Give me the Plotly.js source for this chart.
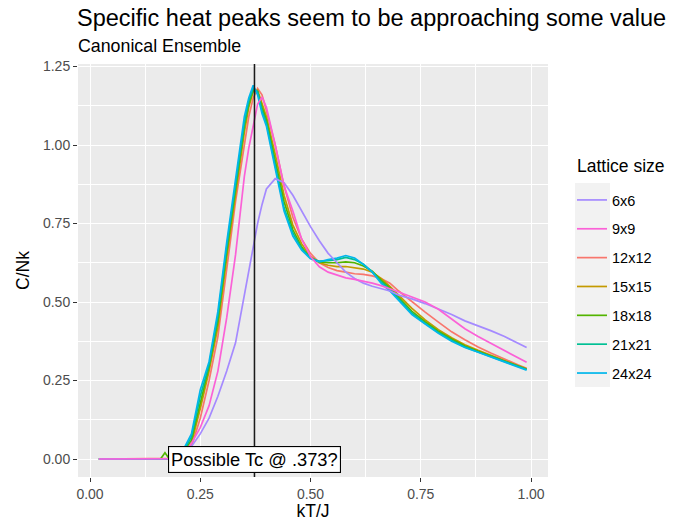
<!DOCTYPE html>
<html>
<head>
<meta charset="utf-8">
<script src="https://cdn.plot.ly/plotly-3.0.1.min.js"></script>
<style>html,body{margin:0;padding:0;background:#fff;}#chart{width:683px;height:521px;}</style>
</head>
<body>
<div id="chart"></div>
<script>
// ---- data ----
const kT = [0.02, 0.06, 0.10, 0.14, 0.16, 0.17, 0.18, 0.19, 0.21, 0.23, 0.25, 0.27, 0.29, 0.31, 0.33, 0.35, 0.36, 0.37, 0.38, 0.39, 0.40, 0.42, 0.44, 0.46, 0.48, 0.50, 0.52, 0.54, 0.56, 0.58, 0.60, 0.62, 0.64, 0.66, 0.68, 0.70, 0.73, 0.76, 0.79, 0.82, 0.85, 0.88, 0.91, 0.94, 0.97, 0.99];

const c6  = [0, 0, 0, 0, 0, 0, 0, 0.001, 0.005, 0.04, 0.08, 0.13, 0.20, 0.28, 0.37, 0.52, 0.59, 0.675, 0.75, 0.81, 0.86, 0.893, 0.88, 0.84, 0.79, 0.74, 0.695, 0.655, 0.625, 0.595, 0.575, 0.56, 0.55, 0.543, 0.535, 0.522, 0.51, 0.495, 0.478, 0.46, 0.44, 0.425, 0.408, 0.39, 0.37, 0.355];
const c9  = [0, 0, 0, 0, 0, 0, 0, 0.001, 0.006, 0.05, 0.10, 0.17, 0.28, 0.45, 0.65, 0.90, 0.99, 1.06, 1.13, 1.153, 1.12, 1.00, 0.87, 0.79, 0.70, 0.645, 0.612, 0.595, 0.585, 0.577, 0.572, 0.567, 0.56, 0.552, 0.543, 0.532, 0.516, 0.50, 0.477, 0.445, 0.415, 0.39, 0.368, 0.347, 0.325, 0.308];
const c12 = [0, 0, 0, 0, 0, 0, 0, 0.002, 0.01, 0.04, 0.13, 0.25, 0.39, 0.61, 0.82, 1.00, 1.09, 1.15, 1.18, 1.16, 1.11, 1.00, 0.87, 0.77, 0.70, 0.655, 0.625, 0.61, 0.60, 0.595, 0.59, 0.588, 0.583, 0.575, 0.56, 0.535, 0.50, 0.468, 0.436, 0.405, 0.38, 0.357, 0.337, 0.318, 0.30, 0.289];
const c15 = [0, 0, 0, 0, 0, 0, 0, 0.003, 0.015, 0.05, 0.16, 0.28, 0.42, 0.64, 0.845, 1.04, 1.12, 1.17, 1.175, 1.13, 1.09, 0.97, 0.84, 0.745, 0.685, 0.645, 0.625, 0.617, 0.613, 0.613, 0.61, 0.605, 0.595, 0.575, 0.55, 0.522, 0.48, 0.443, 0.412, 0.386, 0.364, 0.346, 0.33, 0.314, 0.299, 0.287];
const c18 = [0, 0, 0, 0, 0, 0.02, 0, 0.005, 0.02, 0.06, 0.18, 0.295, 0.44, 0.66, 0.86, 1.06, 1.13, 1.175, 1.17, 1.12, 1.08, 0.95, 0.82, 0.73, 0.675, 0.64, 0.628, 0.625, 0.625, 0.628, 0.625, 0.615, 0.598, 0.57, 0.545, 0.515, 0.47, 0.437, 0.407, 0.382, 0.36, 0.343, 0.327, 0.312, 0.297, 0.286];
const c21 = [0, 0, 0, 0, 0, 0, 0, 0.005, 0.02, 0.07, 0.20, 0.30, 0.455, 0.675, 0.875, 1.07, 1.14, 1.18, 1.17, 1.11, 1.07, 0.94, 0.80, 0.72, 0.67, 0.64, 0.63, 0.632, 0.635, 0.642, 0.635, 0.62, 0.596, 0.565, 0.54, 0.51, 0.465, 0.432, 0.403, 0.378, 0.357, 0.341, 0.326, 0.311, 0.296, 0.285];
const c24 = [0, 0, 0, 0, 0, 0, 0, 0.005, 0.025, 0.08, 0.22, 0.31, 0.47, 0.69, 0.89, 1.09, 1.15, 1.19, 1.16, 1.10, 1.06, 0.93, 0.79, 0.71, 0.665, 0.638, 0.628, 0.635, 0.64, 0.648, 0.64, 0.62, 0.595, 0.56, 0.535, 0.505, 0.46, 0.43, 0.40, 0.375, 0.355, 0.34, 0.325, 0.31, 0.295, 0.283];

const sizeLabels = ['6x6', '9x9', '12x12', '15x15', '18x18', '21x21', '24x24'];
const sizeColors = ['#A58AFF', '#FB61D7', '#F8766D', '#C49A00', '#53B400', '#00C094', '#00B6EB'];
const seriesValues = [c6, c9, c12, c15, c18, c21, c24];
// drawing order as in the original (factor levels sorted as text)
const drawOrder = [2, 3, 4, 5, 6, 0, 1];
const tcValue = 0.373;
const tcLabel = 'Possible Tc @ .373?';
const legendTitle = 'Lattice size';
const xTicks = [0, 0.25, 0.5, 0.75, 1.0];
const yTicks = [0, 0.25, 0.5, 0.75, 1.0, 1.25];

// ---- plot ----
const W = 683, H = 521;
const M = {l: 78, r: 135, t: 64, b: 44};
const pw = W - M.l - M.r, ph = H - M.t - M.b;
const px2x = p => (p - M.l) / pw;
const py2y = p => (H - M.b - p) / ph;

const FONT = 'Liberation Sans, Arial, Helvetica, sans-serif';

const traces = drawOrder.map(i => ({
  type: 'scatter', mode: 'lines',
  x: kT, y: seriesValues[i],
  name: sizeLabels[i],
  legendgroup: 'g' + i,
  legendrank: i + 1,
  line: {color: sizeColors[i], width: 1.7},
  hoverinfo: 'x+y+name'
}));

const layout = {
  width: W, height: H,
  margin: M,
  paper_bgcolor: '#FFFFFF',
  plot_bgcolor: '#EBEBEB',
  font: {family: FONT, color: '#000'},
  title: {
    text: 'Specific heat peaks seem to be approaching some value',
    x: (M.l - 1) / W, xanchor: 'left', xref: 'container',
    y: 1 - 18 / H, yanchor: 'middle', yref: 'container',
    font: {size: 23.5, color: '#000', family: FONT}
  },
  annotations: [
    {text: 'Canonical Ensemble', xref: 'paper', yref: 'paper',
     x: 0, xanchor: 'left', xshift: -2, y: py2y(46), yanchor: 'middle', showarrow: false,
     font: {size: 17.8, color: '#000', family: FONT}},
    {text: legendTitle, xref: 'paper', yref: 'paper',
     x: px2x(575), xanchor: 'left', y: py2y(166), yanchor: 'middle', showarrow: false,
     font: {size: 17.5, color: '#000', family: FONT}},
    {text: tcLabel, x: tcValue, y: 0, xref: 'x', yref: 'y', showarrow: false,
     xanchor: 'center', yanchor: 'middle',
     bgcolor: '#FFFFFF', bordercolor: '#000', borderwidth: 1.1, borderpad: 2,
     font: {size: 18.3, color: '#000', family: FONT}}
  ],
  shapes: [
    {type: 'rect', xref: 'paper', yref: 'paper', layer: 'below',
     x0: px2x(575), x1: px2x(610), y0: py2y(387), y1: py2y(183),
     fillcolor: '#F2F2F2', line: {width: 0}},
    {type: 'line', xref: 'x', yref: 'paper', x0: tcValue, x1: tcValue, y0: 0, y1: 1,
     line: {color: '#1a1a1a', width: 1.6}, layer: 'above'}
  ],
  xaxis: {
    range: [-0.0272, 1.0385],
    tickvals: xTicks, tickformat: '.2f',
    ticks: 'outside', ticklen: 4, tickwidth: 1.1, tickcolor: '#333333',
    tickfont: {size: 14, color: '#4D4D4D', family: FONT},
    showgrid: true, gridcolor: '#FFFFFF', gridwidth: 1.2,
    minor: {dtick: 0.125, tick0: 0.125, showgrid: true, gridcolor: '#FFFFFF', gridwidth: 0.6, ticks: ''},
    zeroline: false, showline: false,
    title: {text: 'kT/J', font: {size: 17.5, color: '#000', family: FONT}, standoff: 4}
  },
  yaxis: {
    range: [-0.0573, 1.258],
    tickvals: yTicks, tickformat: '.2f',
    ticks: 'outside', ticklen: 4, tickwidth: 1.1, tickcolor: '#333333',
    tickfont: {size: 14, color: '#4D4D4D', family: FONT},
    showgrid: true, gridcolor: '#FFFFFF', gridwidth: 1.2,
    minor: {dtick: 0.125, tick0: 0.125, showgrid: true, gridcolor: '#FFFFFF', gridwidth: 0.6, ticks: ''},
    zeroline: false, showline: false,
    title: {text: 'C/Nk', font: {size: 17.5, color: '#000', family: FONT}, standoff: 8}
  },
  legend: {
    x: px2x(572), xanchor: 'left',
    y: py2y(184), yanchor: 'top',
    bgcolor: 'rgba(0,0,0,0)',
    traceorder: 'grouped',
    tracegroupgap: 7,
    itemwidth: 30,
    font: {size: 14.5, color: '#000', family: FONT}
  },
  showlegend: true
};

Plotly.newPlot('chart', traces, layout, {displayModeBar: false, staticPlot: false});
</script>
</body>
</html>
